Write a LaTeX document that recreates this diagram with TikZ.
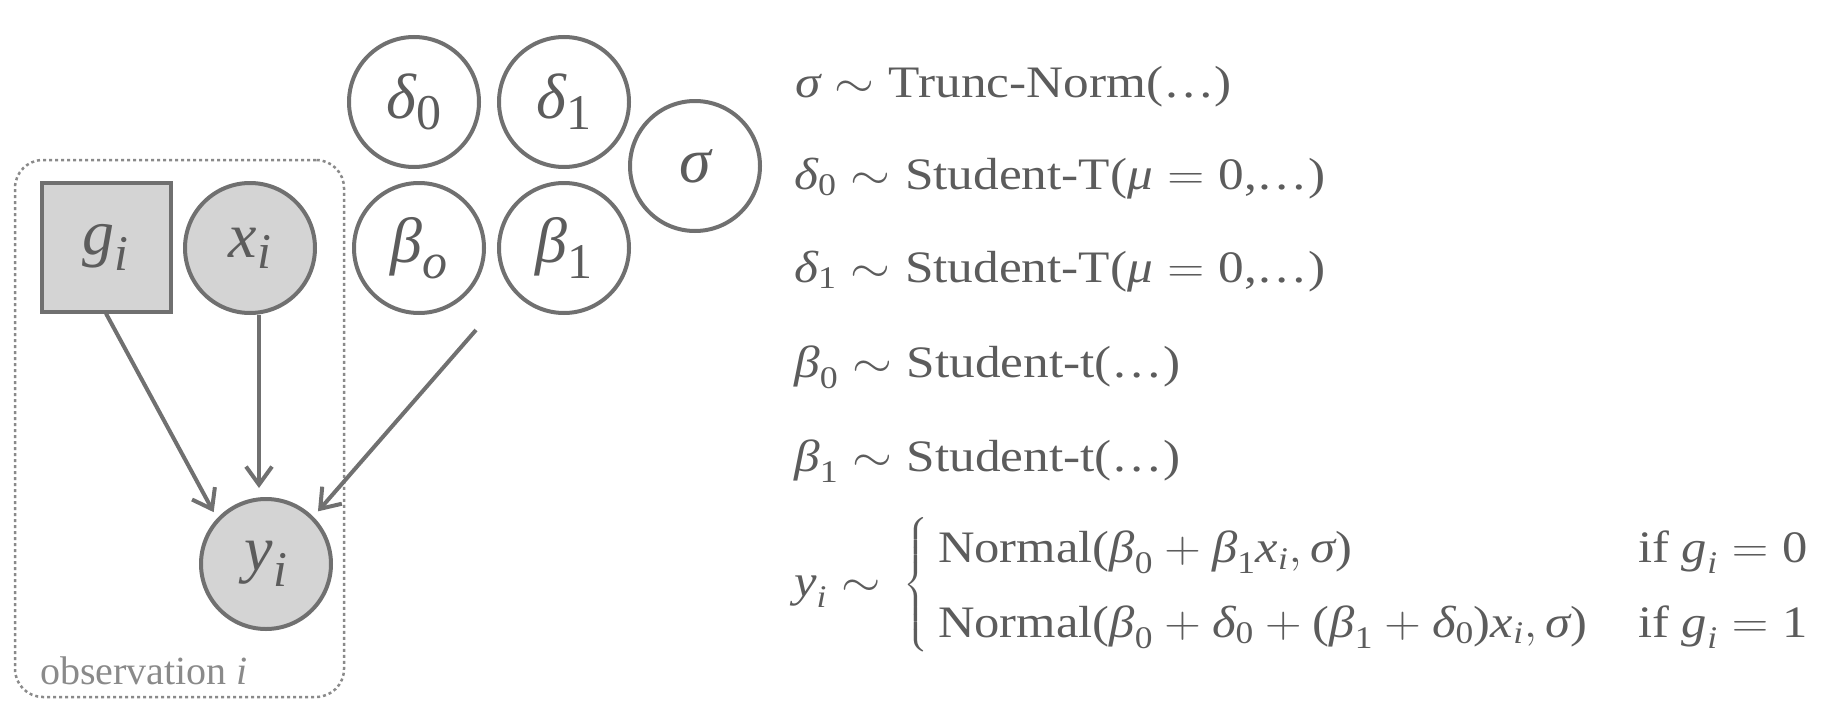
\documentclass[tikz,border=0pt]{standalone}
\usepackage{fix-cm}
\usepackage{amsmath}
\usepackage{fontspec}
\setmainfont{Liberation Serif}
\usetikzlibrary{arrows.meta}
\definecolor{linegray}{HTML}{707070}
\definecolor{textgray}{HTML}{5C5C5C}
\definecolor{fillgray}{HTML}{D4D4D4}
\definecolor{notegray}{HTML}{8A8A8A}
\newcommand{\sym}[1]{\textit{#1}}
\DeclareMathSizes{64}{64}{50}{40}

\begin{document}
\begin{tikzpicture}[
		x=1pt, y=-1pt,
		var/.style={
			circle, draw=linegray, line width=4pt, minimum size=130pt, inner sep=0pt,
			text=textgray, font=\fontsize{64}{76}\selectfont,
		},
		observed/.style={
			var, fill=fillgray,
		},
		edge/.style={
			draw=linegray, line width=4pt, -{Straight Barb[length=18pt, width=26pt]},
		},
		prior/.style={
			anchor=base west, inner sep=0pt, text=textgray, xscale=1.14,
			font=\fontsize{45}{62}\selectfont,
		},
		plate/.style={
			draw=notegray, line width=2.5pt, dash pattern=on 3pt off 3pt,
			rounded corners=28pt, inner sep=0pt,
		},
	]
		\useasboundingbox (0,0) rectangle (1831,712);
		\node[plate, minimum width=329pt, minimum height=537pt] (plate) at (179.5,428.5) {};
		\node[anchor=base west, inner sep=0pt, text=notegray, font=\fontsize{40}{48}\selectfont] (platelabel) at (40,684) {observation \sym{i}};

		\node[observed, rectangle, minimum size=129pt] (g) at (106,247) {$\sym{g}_{\sym{i}}$};
		\node[observed] (x) at (250,248) {$\sym{x}_{\sym{i}}$};
		\node[observed] (y) at (266,564) {$\sym{y}_{\sym{i}}$};
		\node[var] (d0) at (414,102) {$\sym{δ}_{\text{0}}$};
		\node[var] (d1) at (564,102) {$\sym{δ}_{\text{1}}$};
		\node[var] (s) at (695,166) {$\sym{σ}$};
		\node[var] (b0) at (419,248) {$\sym{β}_{\sym{o}}$};
		\node[var] (b1) at (564,248) {$\sym{β}_{\text{1}}$};
		\coordinate (params) at (476,330);

		\draw[edge, shorten >=7pt] (g.south) -- (y.137);
		\draw[edge, shorten >=9pt] ([xshift=9pt]x.south) -- ([xshift=-7pt]y.north);
		\draw[edge, shorten >=7pt] (params) -- (y.45);

		\node[prior] (psigma) at (795,97) {$\sym{σ} \sim \text{Trunc-Norm(\ldots)}$};
		\node[prior] (pd0) at (794,189) {$\sym{δ}_{\text{0}} \sim \text{Student-T(}\sym{μ} = \text{0,\ldots)}$};
		\node[prior] (pd1) at (794,282) {$\sym{δ}_{\text{1}} \sim \text{Student-T(}\sym{μ} = \text{0,\ldots)}$};
		\node[prior] (pb0) at (794,377) {$\sym{β}_{\text{0}} \sim \text{Student-t(\ldots)}$};
		\node[prior] (pb1) at (794,471) {$\sym{β}_{\text{1}} \sim \text{Student-t(\ldots)}$};
		\node[prior, anchor=west, xscale=0.987] (py) at (794,585) {\delimitershortfall=22pt\delimiterfactor=850
			$\sym{y}_{\sym{i}} \sim \,\left\{\hspace{9pt}\renewcommand{\arraystretch}{1.2}\begin{array}{@{}l@{\quad}l@{}}
				\text{Normal(}\sym{β}_{\text{0}} + \sym{β}_{\text{1}}\sym{x}_{\sym{i}}, \sym{σ}\text{)} & \text{if } \sym{g}_{\sym{i}} = \text{0}\\
				\text{Normal(}\sym{β}_{\text{0}} + \sym{δ}_{\text{0}} + \text{(}\sym{β}_{\text{1}} + \sym{δ}_{\text{0}}\text{)}\sym{x}_{\sym{i}}, \sym{σ}\text{)} & \text{if } \sym{g}_{\sym{i}} = \text{1}
			\end{array}\right.$};
	\end{tikzpicture}
\end{document}
